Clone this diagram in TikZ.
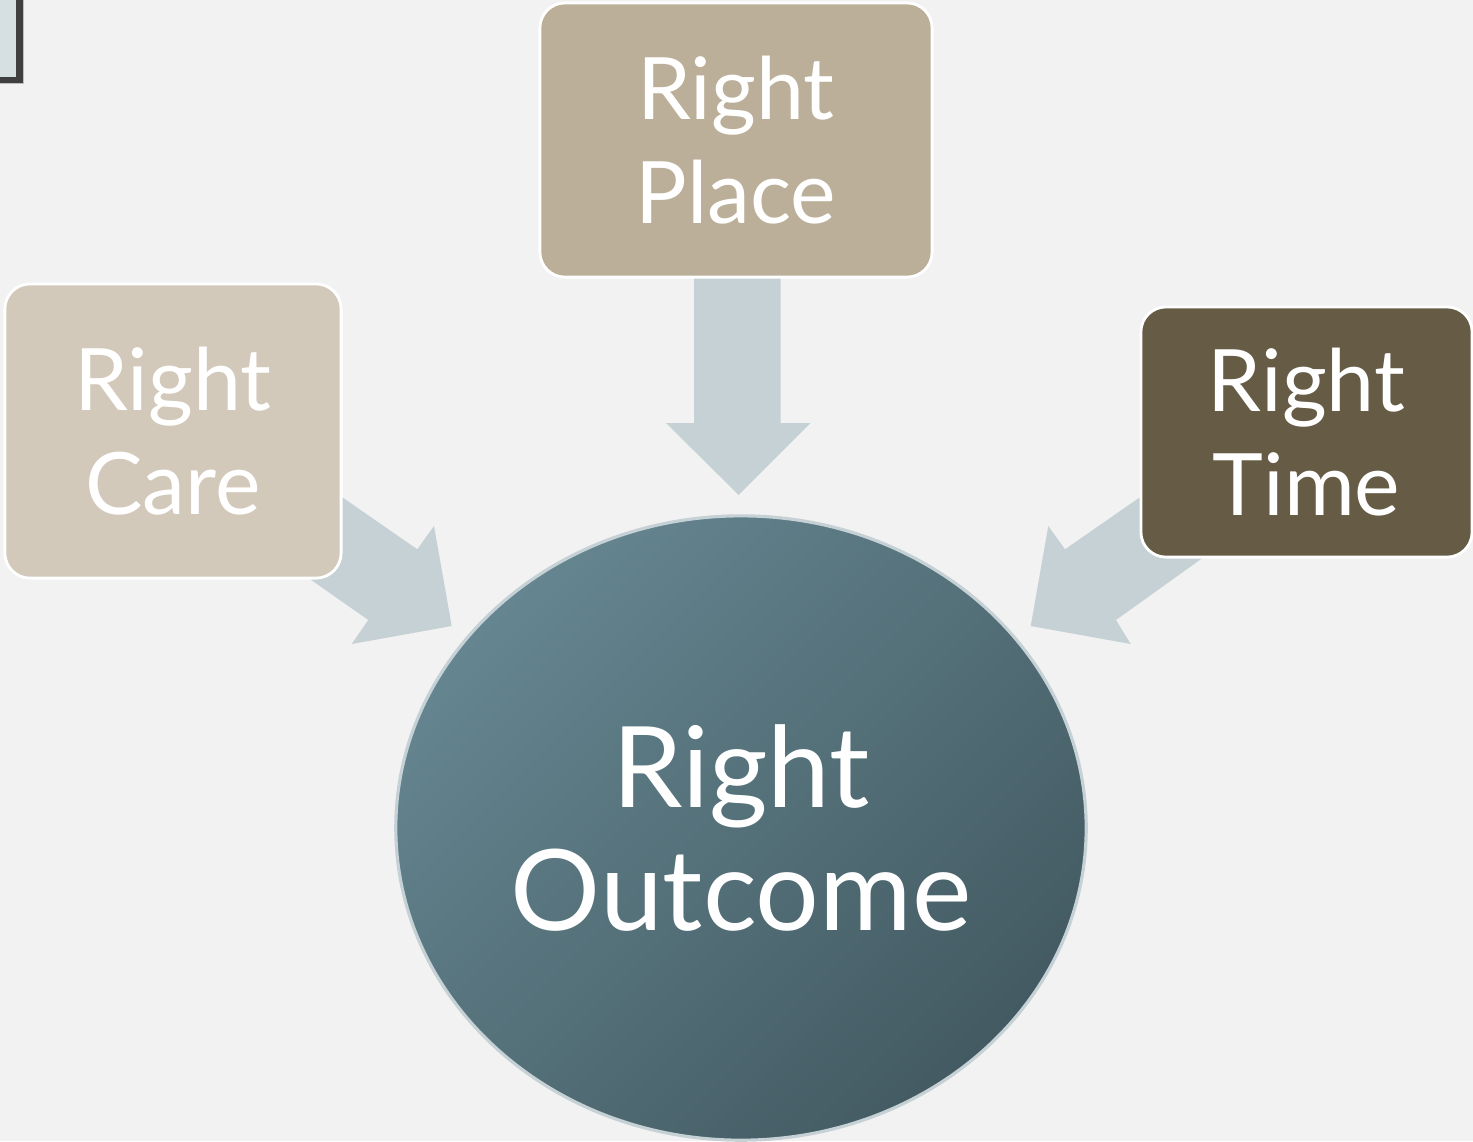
\documentclass[tikz,border=0pt]{standalone}
\usepackage[RGB]{xcolor}
\usepackage{fontspec}
\setmainfont{Lato}
\usetikzlibrary{shapes.geometric}
\definecolor{paper}{RGB}{242,242,242}
\definecolor{Care}{RGB}{210,201,187}
\definecolor{Place}{RGB}{187,175,153}
\definecolor{Time}{RGB}{102,91,69}
\definecolor{ArrowGray}{RGB}{197,209,213}
\definecolor{OutLight}{RGB}{101,133,144}
\definecolor{OutDark}{RGB}{67,90,98}
\definecolor{CornerFill}{RGB}{214,223,225}
\definecolor{CornerEdge}{RGB}{63,63,63}
\newcommand{\boxfont}{\fontsize{24.5}{29.6}\selectfont}
\newcommand{\bigfont}{\fontsize{32}{35}\selectfont}
\newcommand{\drawarrow}{\fill[ArrowGray]}
\tikzset{
  rightbox/.style={draw=white, line width=0.8pt, rounded corners=0.25cm,
    text=white, align=center, font=\boxfont, inner sep=0pt},
  outcome/.style={ellipse, draw=ArrowGray, line width=0.9pt, text=white,
    align=center, font=\bigfont, inner sep=0pt,
    top color=OutLight, bottom color=OutDark, shading angle=45}
}

\begin{document}
\begin{tikzpicture}[x=0.01cm,y=-0.01cm]
\fill[paper] (0,0) rectangle (1473,1141);
\useasboundingbox (0,0) rectangle (1473,1141);
% corner of the frame at top left
\draw[line width=0.07cm, draw=CornerEdge, fill=CornerFill] (-30,-30) rectangle (19.5,80);
\draw[line width=0.4pt, draw=black!25] (23.5,-30)--(23.5,83.5)--(-30,83.5);
% block arrows
\drawarrow (694,270)--++(86.7,0)--++(0,153)--++(30,0)--(738.7,495)--(666,423)--++(28,0)--cycle;
\drawarrow (300,468)--(417.3,549.3)--(434,526)--(451.7,626)--(351.7,644)--(368.3,620)--(260,544)--cycle;
\drawarrow (1182,468)--(1065,549.3)--(1048.3,526)--(1030.7,626)--(1130.7,644)--(1116,620)--(1222,544)--cycle;
% boxes
\node[rightbox, fill=Care, minimum width=3.36cm, minimum height=2.94cm] (care) at (173,431) {Right\\Care};
\node[rightbox, fill=Place, minimum width=3.92cm, minimum height=2.74cm] (place) at (736,140) {Right\\Place};
\node[rightbox, fill=Time, minimum width=3.31cm, minimum height=2.5cm] (time) at (1306.5,432) {Right\\Time};
\node[outcome, minimum width=6.9cm, minimum height=6.24cm] (result) at (741,828) {Right\\Outcome};
\end{tikzpicture}
\end{document}
